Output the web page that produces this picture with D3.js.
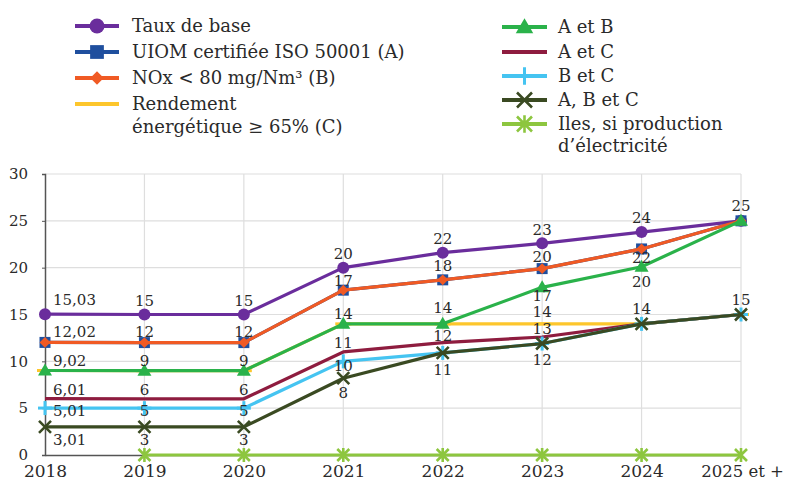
<!DOCTYPE html>
<html>
<head>
<meta charset="utf-8">
<title>Taux</title>
<script src="https://d3js.org/d3.v7.min.js"></script>
<style>
    body{ margin:0; background:#fff; }
    svg text{ font-family:"DejaVu Serif", serif; fill:#2a2a2a; }
</style>
</head>
<body>
<div id="chart"></div>
<script>
// categories
var years = ["2018","2019","2020","2021","2022","2023","2024","2025 et +"]
var yTicks = [0,5,10,15,20,25,30]

// series values
var tauxBase = [15.03, 15, 15, 20, 21.6, 22.6, 23.8, 25]
var uiomA    = [12.02, 12, 12, 17.6, 18.7, 19.9, 22, 25]
var noxB     = [12.02, 12, 12, 17.6, 18.7, 19.9, 22, 25]
var rendC    = [9.02, 9, 9, 14, 14, 14, 14, 15]
var aEtB     = [9.02, 9, 9, 14, 14, 17.9, 20.1, 25]
var aEtC     = [6.01, 6, 6, 11, 12, 12.6, 14, 15]
var bEtC     = [5.01, 5, 5, 10, 10.9, 11.9, 14, 15]
var abc      = [3.01, 3, 3, 8.2, 10.9, 11.9, 14, 15]
var iles     = [null, 0, 0, 0, 0, 0, 0, 0]

// data labels as printed
var lblTaux = ["15,03","15","15","20","22","23","24","25"]
var lblB    = ["12,02","12","12","17","18","20","22",null]
var lblC    = [null,null,null,null,null,"14",null,null]
var lblAB   = ["9,02","9","9","14","14","17","20",null]
var lblAC   = ["6,01","6","6","11","12","13",null,null]
var lblBC   = ["5,01","5","5","10",null,null,null,null]
var lblABC  = ["3,01","3","3","8","11","12","14","15"]

// vertical offset of each label from its point
var dyTaux = [-14,-14,-14,-14,-14,-14,-14,-15]
var dyB    = [-11,-11,-11,-9,-14,-12,9,0]
var dyC    = [0,0,0,0,0,-12,0,0]
var dyAB   = [-10,-10,-10,-10,-16,8,15,0]
var dyAC   = [-9,-9,-9,-9,-7,-8,0,0]
var dyBC   = [3,3,3,4,0,0,0,0]
var dyABC  = [13,13,13,15,17,16,-15,-15]

var w = 788, h = 482

var series = [
    {name:"Taux de base", values:tauxBase, color:"#6a2d9c", marker:"circle", labels:lblTaux, dy:dyTaux},
    {name:"UIOM certifiée ISO 50001 (A)", values:uiomA, color:"#1f4f9e", marker:"square"},
    {name:"NOx < 80 mg/Nm³ (B)", values:noxB, color:"#f05a24", marker:"diamond", labels:lblB, dy:dyB},
    {name:"Rendement|énergétique ≥ 65% (C)", values:rendC, color:"#fdc62c", marker:"dash", labels:lblC, dy:dyC},
    {name:"A et B", values:aEtB, color:"#2ab24a", marker:"triangle", labels:lblAB, dy:dyAB},
    {name:"A et C", values:aEtC, color:"#8e1c3f", marker:"none", labels:lblAC, dy:dyAC},
    {name:"B et C", values:bEtC, color:"#45c4f1", marker:"plus", labels:lblBC, dy:dyBC},
    {name:"A, B et C", values:abc, color:"#3a4a22", marker:"cross", labels:lblABC, dy:dyABC},
    {name:"Iles, si production|d’électricité", values:iles, color:"#8dc63f", marker:"star"}
]

var svg = d3.select("#chart").append("svg")
    .attr("width", w)
    .attr("height", h)

var x = d3.scalePoint().domain(years).range([45, 741])
var y = d3.scaleLinear().domain([0, 30]).range([455, 174])

// grid
svg.append("g").selectAll("line.h")
    .data(yTicks.filter(function(d){ return d > 0 }))
    .enter().append("line")
    .attr("x1", x(years[0])).attr("x2", x(years[years.length-1]))
    .attr("y1", function(d){ return y(d) }).attr("y2", function(d){ return y(d) })
    .attr("stroke", "#dedede").attr("stroke-width", 1.2)

svg.append("g").selectAll("line.v")
    .data(years.slice(1))
    .enter().append("line")
    .attr("x1", function(d){ return x(d) }).attr("x2", function(d){ return x(d) })
    .attr("y1", y(30)).attr("y2", y(0))
    .attr("stroke", "#dedede").attr("stroke-width", 1.2)

// axes
var yAxis = d3.axisLeft(y).tickValues(yTicks).tickSize(3).tickPadding(14)
var gy = svg.append("g").attr("transform", "translate(" + x(years[0]) + ",0)").call(yAxis)
gy.select(".domain").attr("stroke", "#555").attr("stroke-width", 1.5)
gy.selectAll(".tick line").attr("stroke", "#555")
gy.selectAll(".tick text").style("font-size", "15px").attr("fill", "#333")

var xAxis = d3.axisBottom(x).tickSize(0).tickPadding(10)
var gx = svg.append("g").attr("transform", "translate(0," + y(0) + ")").call(xAxis)
gx.select(".domain").attr("stroke", "#555").attr("stroke-width", 1.5)
gx.selectAll(".tick text").style("font-size", "17px").attr("fill", "#333")
gx.selectAll(".tick text").filter(function(d){ return d === years[years.length-1] }).attr("dx", 1).style("font-size", "16.5px")

function drawMarker(g, type, cx, cy, color, s) {
    s = s || 1
    if (type === "circle") {
        g.append("circle").attr("cx", cx).attr("cy", cy).attr("r", 6*s).attr("fill", color)
    } else if (type === "square") {
        g.append("rect").attr("x", cx-5.5*s).attr("y", cy-5.5*s).attr("width", 11*s).attr("height", 11*s).attr("fill", color)
    } else if (type === "diamond") {
        g.append("path").attr("d", d3.symbol().type(d3.symbolDiamond2).size(75*s*s)()).attr("transform", "translate(" + cx + "," + cy + ")").attr("fill", color)
    } else if (type === "triangle") {
        g.append("path").attr("d", "M" + (cx-7*s) + "," + (cy+5*s) + "L" + cx + "," + (cy-7*s) + "L" + (cx+7*s) + "," + (cy+5*s) + "Z").attr("fill", color)
    } else if (type === "dash") {
        g.append("line").attr("x1", cx-8).attr("x2", cx+8).attr("y1", cy).attr("y2", cy).attr("stroke", color).attr("stroke-width", 3)
    } else if (type === "plus") {
        g.append("line").attr("x1", cx).attr("x2", cx).attr("y1", cy-7*s).attr("y2", cy+7*s).attr("stroke", color).attr("stroke-width", 3)
        g.append("line").attr("x1", cx-7*s).attr("x2", cx+7*s).attr("y1", cy).attr("y2", cy).attr("stroke", color).attr("stroke-width", 3)
    } else if (type === "cross") {
        g.append("path").attr("d", "M" + (cx-6*s) + "," + (cy-6*s) + "L" + (cx+6*s) + "," + (cy+6*s) + "M" + (cx+6*s) + "," + (cy-6*s) + "L" + (cx-6*s) + "," + (cy+6*s))
            .attr("stroke", color).attr("stroke-width", 2.6).attr("fill", "none")
    } else if (type === "star") {
        g.append("path").attr("d", "M" + (cx-6*s) + "," + (cy-6*s) + "L" + (cx+6*s) + "," + (cy+6*s) + "M" + (cx+6*s) + "," + (cy-6*s) + "L" + (cx-6*s) + "," + (cy+6*s) + "M" + cx + "," + (cy-7*s) + "L" + cx + "," + (cy+7*s))
            .attr("stroke", color).attr("stroke-width", 2.6).attr("fill", "none")
    }
}

var line = d3.line()
    .defined(function(d){ return d != null })
    .x(function(d, i){ return x(years[i]) })
    .y(function(d){ return y(d) })

// lines + markers
series.forEach(function(s){
    var g = svg.append("g")
    g.append("path")
        .attr("d", line(s.values))
        .attr("fill", "none")
        .attr("stroke", s.color)
        .attr("stroke-width", 3.2)
        .attr("stroke-linejoin", "round")
    s.values.forEach(function(v, i){
        if (v == null) return
        drawMarker(g, s.marker, x(years[i]), y(v), s.color)
    })
})

// data labels
var gl = svg.append("g")
series.forEach(function(s){
    if (!s.labels) return
    s.labels.forEach(function(t, i){
        if (t == null) return
        gl.append("text")
            .attr("x", x(years[i]) + (i === 0 ? 8 : 0))
            .attr("y", y(s.values[i]) + s.dy[i])
            .attr("dy", "0.35em")
            .attr("text-anchor", i === 0 ? "start" : "middle")
            .style("font-size", "15px")
            .text(t)
    })
})

// legend
var leftRows = [26, 52, 78, 104]
var rightRows = [27, 52, 76, 100, 124]
var legend = svg.append("g")
series.forEach(function(s, i){
    var left = i < 4
    var ly = left ? leftRows[i] : rightRows[i-4]
    var x0 = left ? 75 : 502, x1 = left ? 119 : 547, tx = left ? 132 : 558
    legend.append("line").attr("x1", x0).attr("x2", x1).attr("y1", ly).attr("y2", ly)
        .attr("stroke", s.color).attr("stroke-width", 4)
    if (s.marker !== "dash") drawMarker(legend, s.marker, (x0+x1)/2, ly, s.color, 1.25)
    var parts = s.name.split("|")
    parts.forEach(function(p, k){
        legend.append("text").attr("x", tx).attr("y", ly + k*(left ? 23 : 22)).attr("dy", "0.35em")
            .style("font-size", "18px").attr("fill", "#222").text(p)
    })
})
</script>
</body>
</html>
